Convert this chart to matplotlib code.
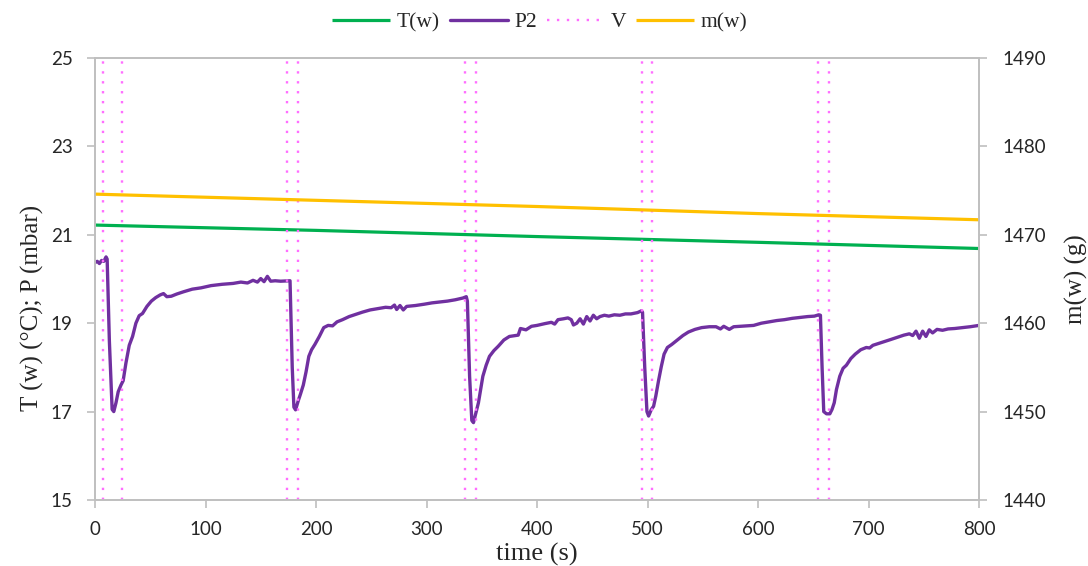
import matplotlib
matplotlib.use("Agg")
import matplotlib.pyplot as plt

# water temperature (left axis) and water mass (right axis)
tw_time = [0, 200, 400, 600, 800]
tw_temp = [21.22, 21.10, 20.96, 20.83, 20.69]
mw_time = [0, 200, 400, 600, 800]
mw_mass = [1474.6, 1473.9, 1473.2, 1472.4, 1471.7]

# valve switching times (s)
v_times = [7.5, 24.7, 174.0, 184.0, 335.0, 344.5, 494.7, 504.3, 654.6, 664.3]

# pressure P2 (mbar)
p2_time = [
    0, 2, 4, 6, 8, 10, 11, 13, 15.5, 17, 19, 21, 23.5, 25.5, 28, 31, 34, 37, 40, 43,
    47, 51, 55, 59, 62, 65, 69, 74, 80, 88, 96, 105, 115, 125, 132, 138, 143, 147,
    150, 153, 156, 159, 163, 168, 175,
    176.5, 178.5, 180, 181.5, 184, 186, 188.5, 191, 193.5, 196, 199, 203, 207, 211,
    215, 219, 224, 230, 236, 242, 249, 256, 263, 268, 271, 273, 276, 279, 282, 290,
    298, 305, 312, 319, 326, 333, 336,
    337, 339, 341, 342.5, 344.5, 347, 349, 351, 354, 357, 361, 365, 370, 375, 380,
    383, 385, 390, 395, 400, 407, 413, 416, 419, 424, 428, 431, 433, 436, 439, 442,
    445, 448, 451, 454, 457, 461, 465, 470, 475, 480, 485, 491, 494.5,
    495.5, 497.5, 499.5, 501, 503.5, 505.5, 507.5, 510, 512.5, 515, 518, 522, 527,
    532, 537, 543, 549, 556, 562, 566, 569, 574, 578, 584, 590, 596, 603, 610, 617,
    624, 631, 638, 645, 651, 655,
    656.5, 658, 659.5, 662, 665, 667, 669, 671, 674, 677, 680, 684, 688, 693, 698,
    701, 704, 709, 714, 720, 726, 732, 737, 740, 743, 746, 749, 752, 755, 758, 762,
    767, 772, 778, 785, 792, 800,
]
p2_mbar = [
    20.37, 20.40, 20.35, 20.42, 20.40, 20.50, 20.45, 18.60, 17.05, 17.00, 17.20,
    17.45, 17.60, 17.70, 18.10, 18.50, 18.70, 19.00, 19.17, 19.22, 19.38, 19.50,
    19.58, 19.64, 19.67, 19.60, 19.61, 19.66, 19.71, 19.77, 19.80, 19.85, 19.88,
    19.90, 19.93, 19.91, 19.97, 19.93, 20.01, 19.94, 20.06, 19.95, 19.96, 19.95,
    19.96,
    19.96, 18.00, 17.10, 17.04, 17.25, 17.40, 17.60, 17.90, 18.25, 18.40, 18.52,
    18.70, 18.90, 18.95, 18.94, 19.03, 19.08, 19.15, 19.20, 19.25, 19.30, 19.33,
    19.36, 19.35, 19.41, 19.31, 19.40, 19.30, 19.38, 19.40, 19.43, 19.46, 19.48,
    19.50, 19.53, 19.57, 19.60,
    19.50, 17.80, 16.80, 16.75, 16.95, 17.20, 17.50, 17.80, 18.05, 18.25, 18.38,
    18.48, 18.62, 18.70, 18.72, 18.73, 18.88, 18.85, 18.93, 18.95, 18.99, 19.02,
    18.98, 19.08, 19.10, 19.12, 19.08, 18.96, 19.00, 19.10, 18.98, 19.15, 19.05,
    19.18, 19.10, 19.15, 19.18, 19.16, 19.19, 19.18, 19.21, 19.21, 19.24, 19.28,
    19.25, 18.00, 17.00, 16.90, 17.05, 17.12, 17.35, 17.70, 18.02, 18.30, 18.45,
    18.52, 18.62, 18.72, 18.80, 18.86, 18.90, 18.92, 18.92, 18.87, 18.93, 18.86,
    18.92, 18.93, 18.94, 18.95, 19.00, 19.03, 19.06, 19.08, 19.11, 19.13, 19.15,
    19.16, 19.19,
    19.18, 18.00, 17.00, 16.95, 16.95, 17.05, 17.20, 17.50, 17.80, 17.98, 18.05,
    18.20, 18.30, 18.40, 18.45, 18.44, 18.50, 18.54, 18.58, 18.63, 18.68, 18.73,
    18.76, 18.72, 18.82, 18.66, 18.82, 18.70, 18.85, 18.78, 18.86, 18.84, 18.87,
    18.88, 18.90, 18.92, 18.95,
]

GREEN = "#00B050"
PURPLE = "#7030A0"
PINK = "#FF6EFF"
ORANGE = "#FFC000"
GREY = "#BFBFBF"
TEXT = "#262626"
TICK_FONT = "Lato"
LABEL_FONT = "Liberation Serif"

fig = plt.figure(figsize=(10.88, 5.66), dpi=100)
ax = fig.add_axes([95 / 1088, 1 - 500 / 566, 884 / 1088, 442 / 566])
ax2 = ax.twinx()

ax.plot(tw_time, tw_temp, color=GREEN, lw=2.3, label="T(w)", solid_capstyle="butt")
ax.plot(p2_time, p2_mbar, color=PURPLE, lw=2.4, label="P2",
        solid_joinstyle="round", solid_capstyle="round")
ax.vlines(v_times, 15, 25, colors=PINK, linestyles=(0, (1, 3.2)), lw=1.7, label="V")
ax2.plot(mw_time, mw_mass, color=ORANGE, lw=2.3, label="m(w)", solid_capstyle="butt")

ax.set_xlim(0, 800)
ax.set_ylim(15, 25)
ax2.set_ylim(1440, 1490)
ax.set_xticks(range(0, 801, 100))
ax.set_yticks(range(15, 26, 2))
ax2.set_yticks(range(1440, 1491, 10))

for a in (ax, ax2):
    for s in a.spines.values():
        s.set_color(GREY)
        s.set_linewidth(1.2)
    a.tick_params(colors=GREY, labelcolor=TEXT, length=6, width=1.2, direction="out")
    for lab in a.get_xticklabels() + a.get_yticklabels():
        lab.set_fontfamily(TICK_FONT)
        lab.set_fontsize(13.5)
ax.tick_params(axis="y", pad=10)
ax.tick_params(axis="x", pad=9)
ax2.tick_params(axis="y", pad=11)

ax.set_xlabel("time (s)", fontfamily=LABEL_FONT, fontsize=19, color=TEXT)
ax.xaxis.set_label_coords(0.5, -0.097)
ax.set_ylabel("T (w) (°C); P (mbar)", fontfamily=LABEL_FONT, fontsize=18, color=TEXT)
ax.yaxis.set_label_coords(-0.058, 0.435)
ax2.set_ylabel("m(w) (g)", fontfamily=LABEL_FONT, fontsize=18, color=TEXT)
ax2.yaxis.set_label_coords(1.097, 0.5)

h1, l1 = ax.get_legend_handles_labels()
h2, l2 = ax2.get_legend_handles_labels()
fig.legend(h1 + h2, l1 + l2, loc="center", bbox_to_anchor=(540 / 1088, 1 - 22 / 566),
           ncol=4, frameon=False, handlelength=2.7, handletextpad=0.3,
           columnspacing=0.45, prop={"family": LABEL_FONT, "size": 15.5},
           labelcolor=TEXT)

fig.savefig("out.png", dpi=100)
